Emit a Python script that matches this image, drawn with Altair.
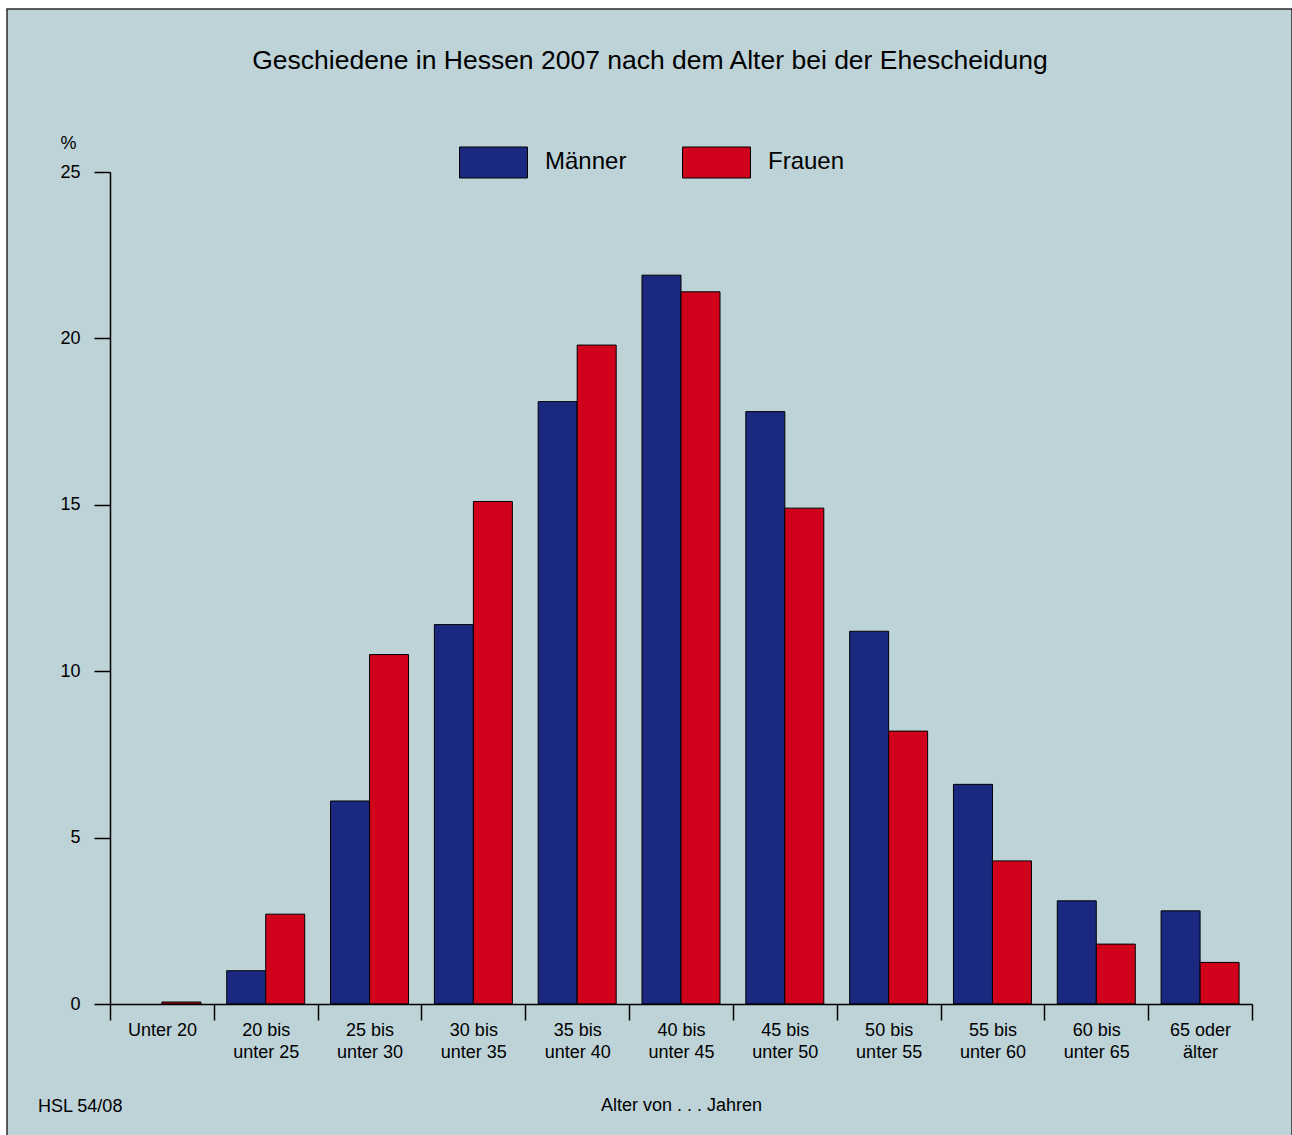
import altair as alt
import pandas as pd

categories = ["Unter 20", "20 bis unter 25", "25 bis unter 30", "30 bis unter 35",
              "35 bis unter 40", "40 bis unter 45", "45 bis unter 50", "50 bis unter 55",
              "55 bis unter 60", "60 bis unter 65", "65 oder älter"]
maenner = [0.0, 1.0, 6.1, 11.4, 18.1, 21.9, 17.8, 11.2, 6.6, 3.1, 2.8]
frauen = [0.06, 2.7, 10.5, 15.1, 19.8, 21.4, 14.9, 8.2, 4.3, 1.8, 1.25]
series = ["Männer", "Frauen"]
colors = ["#1a2880", "#d0021b"]
title_text = "Geschiedene in Hessen 2007 nach dem Alter bei der Ehescheidung"
footer_text = "HSL 54/08"

rows = []
for c, m, f in zip(categories, maenner, frauen):
    rows.append({"Alter": c, "Geschlecht": "Männer", "Anteil": m})
    rows.append({"Alter": c, "Geschlecht": "Frauen", "Anteil": f})
df = pd.DataFrame(rows)

FONT = "Liberation Sans"
BG = "#bed3d8"
W, H = 1142, 832

frame = alt.Chart(pd.DataFrame({"a": [0]})).mark_rect(
    fill=BG, stroke="#2a2a2a", strokeWidth=1.5
).encode(
    x=alt.value(-103), x2=alt.value(1182),
    y=alt.value(-163), y2=alt.value(1000)
)

label_expr = ("split(replace(replace(datum.label, ' unter', '|unter'), ' älter', '|älter'), '|')")

bars = alt.Chart(df).mark_bar(stroke="black", strokeWidth=1).encode(
    x=alt.X("Alter:N", sort=categories,
            scale=alt.Scale(paddingInner=0, paddingOuter=0),
            axis=alt.Axis(title="Alter von . . . Jahren", labelAngle=0,
                          labelExpr=label_expr, tickBand="extent",
                          tickSize=16, tickColor="black", domainColor="black",
                          tickWidth=1.5, domainWidth=1.5,
                          labelFontSize=18, labelFont=FONT, labelColor="black",
                          labelLineHeight=22, labelPadding=1, labelBaseline="top",
                          titleFontSize=18, titleFont=FONT, titleFontWeight="normal",
                          titleColor="black", titlePadding=35, zindex=1)),
    xOffset=alt.XOffset("Geschlecht:N", sort=series,
                        scale=alt.Scale(paddingInner=0, paddingOuter=0.331)),
    y=alt.Y("Anteil:Q", scale=alt.Scale(domain=[0, 25], nice=False),
            axis=alt.Axis(values=[0, 5, 10, 15, 20, 25], grid=False, title="%",
                          titleAngle=0, titleAlign="center", titleBaseline="middle",
                          titleX=-42, titleY=-29, titleFontSize=18, titleFont=FONT,
                          titleFontWeight="normal", titleColor="black",
                          tickSize=16, tickColor="black", domainColor="black",
                          tickWidth=1.5, domainWidth=1.5,
                          labelFontSize=18, labelFont=FONT, labelColor="black",
                          labelPadding=14, zindex=1)),
    color=alt.Color("Geschlecht:N", sort=series,
                    scale=alt.Scale(domain=series, range=colors),
                    legend=alt.Legend(title=None, orient="none", direction="horizontal",
                                      legendX=349, legendY=-44.5, padding=0,
                                      symbolType="M-1,-0.456H1V0.456H-1Z", symbolSize=4624,
                                      symbolStrokeColor="black", symbolStrokeWidth=1,
                                      symbolOpacity=1,
                                      labelFontSize=24, labelFont=FONT, labelColor="black",
                                      labelOffset=17, columnPadding=53, zindex=1))
).transform_filter("datum.Anteil > 0")

title = alt.Chart(pd.DataFrame({"t": [title_text]})).mark_text(
    align="center", baseline="middle", fontSize=26.5, font=FONT, color="black"
).encode(x=alt.value(540), y=alt.value(-111), text="t:N")

footer = alt.Chart(pd.DataFrame({"t": [footer_text]})).mark_text(
    align="left", baseline="middle", fontSize=18, font=FONT, color="black"
).encode(x=alt.value(-72), y=alt.value(935), text="t:N")

chart = alt.layer(frame, bars, title, footer).properties(
    width=W, height=H,
    background="white",
    padding={"left": 110, "top": 172, "right": 40, "bottom": 131},
    autosize=alt.AutoSizeParams(type="none"),
).configure_view(stroke=None)

chart.save("out.html", embed_options={"renderer": "svg", "actions": False})
